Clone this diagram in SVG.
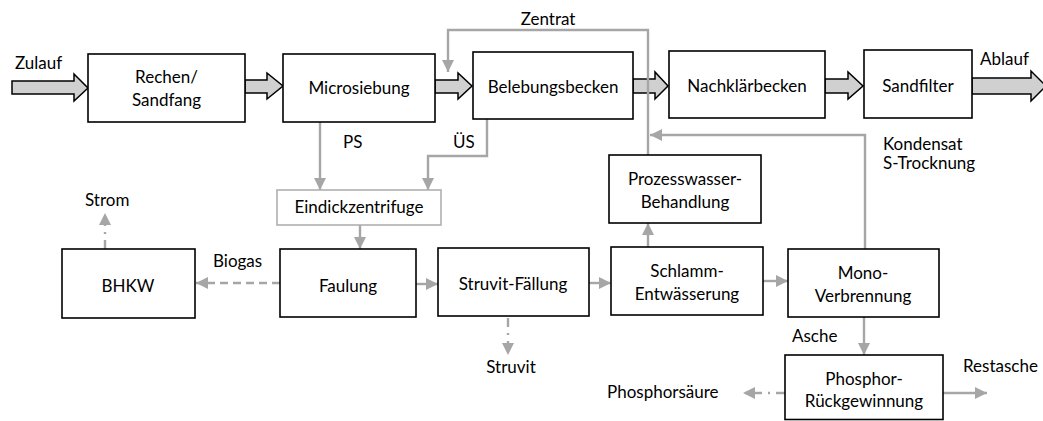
<svg xmlns="http://www.w3.org/2000/svg" width="1043" height="421" viewBox="0 0 1043 421">
<style>
.box{fill:#fff;stroke:#000;stroke-width:1.6}
.gbox{fill:#fff;stroke:#b0b0b0;stroke-width:1.6}
.blk{fill:#d0d0d0;stroke:#000;stroke-width:1.5;stroke-linejoin:miter}
.t{font-family:Lato,"Liberation Sans",sans-serif;font-size:17px;fill:#000}
.m{text-anchor:middle}
.c{fill:none;stroke:#a6a6a6;stroke-width:2.4}
.dash{stroke-dasharray:8 5}
.dd{stroke-dasharray:9 6 2 6}
</style>
<defs>
<marker id="ah" markerUnits="userSpaceOnUse" markerWidth="12" markerHeight="12" viewBox="0 0 10 10" refX="10" refY="5" orient="auto">
<path d="M0,0 L10,5 L0,10 Z" fill="#a6a6a6"/>
</marker>
</defs>
<g id="flow-arrows">
<path class="blk" d="M12,81 H74 V74 L88,88 L74,101 V94 H12 Z"/>
<path class="blk" d="M245,80 H267 V73 L283,86 L267,99 V93 H245 Z"/>
<path class="blk" d="M435,80 H458 V73 L472,86 L458,99 V93 H435 Z"/>
<path class="blk" d="M633,79 H655 V72 L668,86 L655,99 V93 H633 Z"/>
<path class="blk" d="M825,79 H848 V72 L863,86 L848,99 V93 H825 Z"/>
<path class="blk" d="M972,78 H1031 V71 L1046,86 L1031,101 V94 H972 Z"/>
</g>
<g id="connectors">
<path class="c" d="M320,122 V190" marker-end="url(#ah)"/>
<path class="c" d="M487,119 V156 H428 V190" marker-end="url(#ah)"/>
<path class="c" d="M648,155 V30 H448 V72" marker-end="url(#ah)"/>
<path class="c" d="M865,249 V135 H650" marker-end="url(#ah)"/>
<path class="c" d="M360,225 V249" marker-end="url(#ah)"/>
<path class="c" d="M416,284 H438" marker-end="url(#ah)"/>
<path class="c" d="M589,283 H611" marker-end="url(#ah)"/>
<path class="c" d="M648,247 V223" marker-end="url(#ah)"/>
<path class="c" d="M763,281 H788" marker-end="url(#ah)"/>
<path class="c" d="M864,317 V355" marker-end="url(#ah)"/>
<path class="c dash" d="M280,283 H196" marker-end="url(#ah)"/>
<path class="c dd" d="M105,249 V213" marker-end="url(#ah)"/>
<path class="c dd" d="M508,318 V355" marker-end="url(#ah)"/>
<path class="c dd" d="M785,393 H743" marker-end="url(#ah)"/>
<path class="c" d="M943,393 H987" marker-end="url(#ah)"/>
</g>
<g id="labels">
<text class="t" x="15" y="69" font-size="18">Zulauf</text>
<text class="t" x="980" y="65" font-size="18">Ablauf</text>
<text class="t m" x="548" y="25">Zentrat</text>
<text class="t" x="343" y="148" font-size="18">PS</text>
<text class="t" x="453" y="148" font-size="18">ÜS</text>
<text class="t" x="85" y="206" font-size="18.5">Strom</text>
<text class="t" x="213" y="267" font-size="18.5">Biogas</text>
<text class="t m" x="511" y="373" font-size="18.5">Struvit</text>
<text class="t" x="883" y="150" font-size="14">Kondensat</text>
<text class="t" x="883" y="169" font-size="14">S-Trocknung</text>
<text class="t" x="792" y="342" font-size="16.5">Asche</text>
<text class="t" x="607" y="398" font-size="19.5">Phosphorsäure</text>
<text class="t" x="963" y="372" font-size="16.5">Restasche</text>
</g>
<g id="rechen"><rect class="box" x="88" y="54" width="157" height="68"/><text class="t m" x="166.5" y="83">Rechen/</text><text class="t m" x="166.5" y="106">Sandfang</text></g>
<g id="microsiebung"><rect class="box" x="283" y="54" width="152" height="68"/><text class="t m" x="359" y="94">Microsiebung</text></g>
<g id="belebungsbecken"><rect class="box" x="473" y="52" width="160" height="67"/><text class="t m" x="553" y="93">Belebungsbecken</text></g>
<g id="nachklaerbecken"><rect class="box" x="669" y="51" width="156" height="67"/><text class="t m" x="747" y="92">Nachklärbecken</text></g>
<g id="sandfilter"><rect class="box" x="864" y="50" width="108" height="68"/><text class="t m" x="918" y="92">Sandfilter</text></g>
<g id="eindickzentrifuge"><rect class="gbox" x="277" y="190" width="164" height="35"/><text class="t m" x="359" y="213">Eindickzentrifuge</text></g>
<g id="bhkw"><rect class="box" x="62" y="249" width="133" height="69"/><text class="t m" x="128" y="292">BHKW</text></g>
<g id="faulung"><rect class="box" x="280" y="249" width="136" height="68"/><text class="t m" x="348" y="292" font-size="19">Faulung</text></g>
<g id="struvit-faellung"><rect class="box" x="438" y="248" width="151" height="68"/><text class="t m" x="513" y="290">Struvit-Fällung</text></g>
<g id="schlammentwaesserung"><rect class="box" x="611" y="247" width="152" height="68"/><text class="t m" x="687" y="277">Schlamm-</text><text class="t m" x="687" y="300">Entwässerung</text></g>
<g id="prozesswasser"><rect class="box" x="609" y="155" width="152" height="68"/><text class="t m" x="685" y="185">Prozesswasser-</text><text class="t m" x="685" y="208">Behandlung</text></g>
<g id="monoverbrennung"><rect class="box" x="788" y="249" width="151" height="68"/><text class="t m" x="863" y="279">Mono-</text><text class="t m" x="863" y="302">Verbrennung</text></g>
<g id="phosphor"><rect class="box" x="785" y="355" width="158" height="64.5"/><text class="t m" x="864" y="385">Phosphor-</text><text class="t m" x="864" y="407">Rückgewinnung</text></g>
</svg>
